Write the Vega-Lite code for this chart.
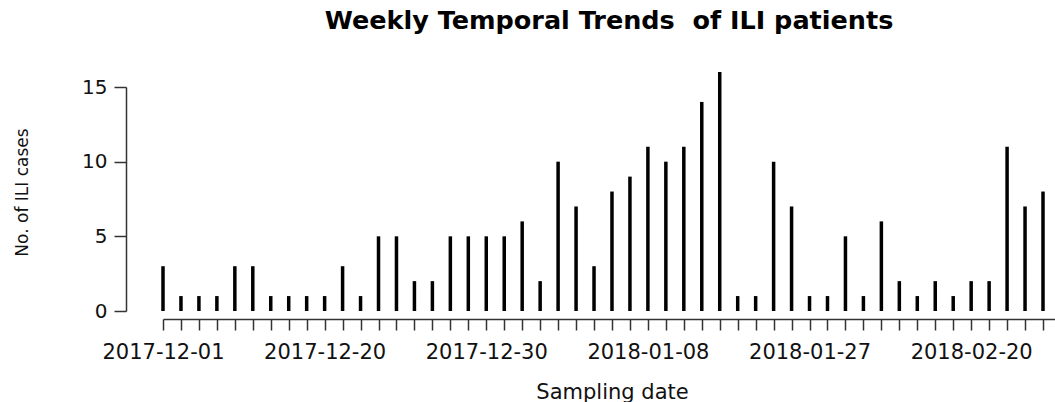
{
  "$schema": "https://vega.github.io/schema/vega-lite/v6.json",
  "width": 892,
  "height": 224,
  "autosize": {"type": "none"},
  "padding": {"left": 163, "top": 87, "right": 0, "bottom": 91},
  "background": "white",
  "title": {
    "text": "Weekly Temporal Trends\u00a0 of ILI patients",
    "font": "DejaVu Sans",
    "fontSize": 25.5,
    "fontWeight": "bold",
    "color": "#000000",
    "anchor": "middle",
    "baseline": "alphabetic",
    "offset": 16
  },
  "data": {
    "values": [
      {"date": "2017-12-01", "cases": 3},
      {"date": "2017-12-03", "cases": 1},
      {"date": "2017-12-05", "cases": 1},
      {"date": "2017-12-07", "cases": 1},
      {"date": "2017-12-09", "cases": 3},
      {"date": "2017-12-11", "cases": 3},
      {"date": "2017-12-13", "cases": 1},
      {"date": "2017-12-15", "cases": 1},
      {"date": "2017-12-17", "cases": 1},
      {"date": "2017-12-20", "cases": 1},
      {"date": "2017-12-21", "cases": 3},
      {"date": "2017-12-22", "cases": 1},
      {"date": "2017-12-23", "cases": 5},
      {"date": "2017-12-24", "cases": 5},
      {"date": "2017-12-25", "cases": 2},
      {"date": "2017-12-26", "cases": 2},
      {"date": "2017-12-27", "cases": 5},
      {"date": "2017-12-28", "cases": 5},
      {"date": "2017-12-30", "cases": 5},
      {"date": "2017-12-31", "cases": 5},
      {"date": "2018-01-01", "cases": 6},
      {"date": "2018-01-02", "cases": 2},
      {"date": "2018-01-03", "cases": 10},
      {"date": "2018-01-04", "cases": 7},
      {"date": "2018-01-05", "cases": 3},
      {"date": "2018-01-06", "cases": 8},
      {"date": "2018-01-07", "cases": 9},
      {"date": "2018-01-08", "cases": 11},
      {"date": "2018-01-10", "cases": 10},
      {"date": "2018-01-12", "cases": 11},
      {"date": "2018-01-14", "cases": 14},
      {"date": "2018-01-16", "cases": 16},
      {"date": "2018-01-18", "cases": 1},
      {"date": "2018-01-20", "cases": 1},
      {"date": "2018-01-22", "cases": 10},
      {"date": "2018-01-24", "cases": 7},
      {"date": "2018-01-27", "cases": 1},
      {"date": "2018-01-29", "cases": 1},
      {"date": "2018-02-01", "cases": 5},
      {"date": "2018-02-04", "cases": 1},
      {"date": "2018-02-06", "cases": 6},
      {"date": "2018-02-09", "cases": 2},
      {"date": "2018-02-11", "cases": 1},
      {"date": "2018-02-14", "cases": 2},
      {"date": "2018-02-17", "cases": 1},
      {"date": "2018-02-20", "cases": 2},
      {"date": "2018-02-22", "cases": 2},
      {"date": "2018-02-24", "cases": 11},
      {"date": "2018-02-26", "cases": 7},
      {"date": "2018-02-28", "cases": 8}
    ]
  },
  "mark": {"type": "rule", "color": "#000000", "strokeWidth": 3.5},
  "encoding": {
    "x": {
      "field": "date",
      "type": "ordinal",
      "sort": null,
      "scale": {"type": "point", "padding": 0.334, "align": 0},
      "axis": {
        "title": "Sampling date",
        "titleFont": "DejaVu Sans",
        "titleFontSize": 21,
        "titleFontWeight": "normal",
        "titleColor": "#111111",
        "titleX": 449,
        "titleY": 79,
        "titleBaseline": "alphabetic",
        "labelExpr": "indexof(['2017-12-01','2017-12-20','2017-12-30','2018-01-08','2018-01-27','2018-02-20'], datum.value) >= 0 ? datum.value : ''",
        "labelAngle": 0,
        "labelFont": "DejaVu Sans",
        "labelFontSize": 21,
        "labelColor": "#111111",
        "labelBaseline": "alphabetic",
        "labelPadding": 28,
        "labelOverlap": false,
        "labelFlush": false,
        "offset": 8,
        "domainColor": "#333333",
        "domainWidth": 1.5,
        "tickColor": "#333333",
        "tickWidth": 1.5,
        "tickSize": 11,
        "grid": false
      }
    },
    "y": {
      "field": "cases",
      "type": "quantitative",
      "scale": {"domain": [0, 15], "nice": false, "zero": true},
      "axis": {
        "title": "No. of ILI cases",
        "titleFont": "DejaVu Sans",
        "titleFontSize": 17,
        "titleFontWeight": "normal",
        "titleColor": "#111111",
        "titlePadding": 50,
        "titleY": 105,
        "values": [0, 5, 10, 15],
        "labelFont": "DejaVu Sans",
        "labelFontSize": 20,
        "labelColor": "#111111",
        "labelPadding": 7,
        "offset": 37,
        "domainColor": "#333333",
        "domainWidth": 1.5,
        "tickColor": "#333333",
        "tickWidth": 1.5,
        "tickSize": 12,
        "grid": false
      }
    },
    "y2": {"datum": 0}
  },
  "config": {
    "view": {"stroke": null},
    "axis": {"grid": false}
  }
}
